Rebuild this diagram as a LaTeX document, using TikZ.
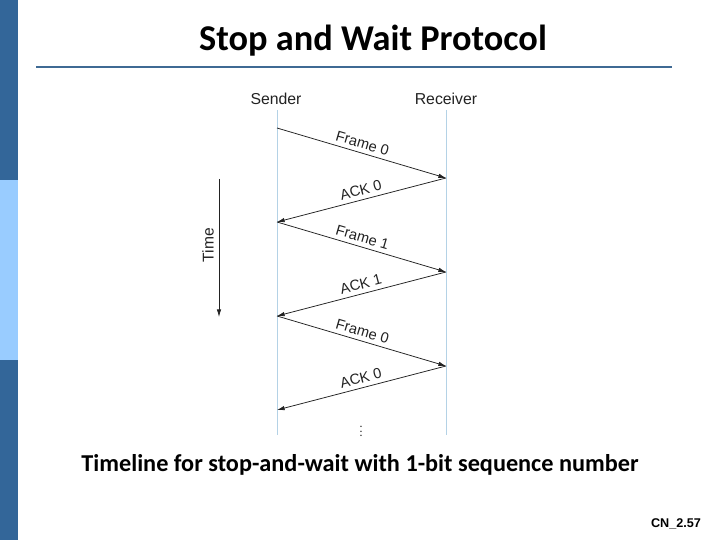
\documentclass[tikz,border=0pt]{standalone}
\usepackage{fontspec}
\setmainfont{Carlito}
\newfontfamily\arialfont{Liberation Sans}
\usetikzlibrary{arrows.meta,positioning,calc}
\definecolor{bardark}{HTML}{336699}
\definecolor{barlight}{HTML}{99CCFF}
\definecolor{rulecol}{HTML}{3F6A94}
\definecolor{lifecol}{HTML}{B4D2E6}
\definecolor{msgcol}{HTML}{222222}
\begin{document}
\begin{tikzpicture}[x=0.03cm,y=-0.03cm,>={Latex[length=6.5pt,width=3.8pt]}]
\tikzstyle{msg}=[draw=msgcol,line width=0.65pt,->]
\tikzstyle{lbl}=[font=\arialfont\fontsize{12.5}{14}\selectfont,text=msgcol,above,sloped,pos=0.49,inner sep=3.5pt]
\tikzstyle{life}=[draw=lifecol,line width=0.7pt]
\useasboundingbox (0,0) rectangle (720,540);
% side bar and title
\fill[bardark] (0,0) rectangle (18,180);
\fill[barlight] (0,180) rectangle (18,360);
\fill[bardark] (0,360) rectangle (18,540);
\node[font=\bfseries\fontsize{31}{36}\selectfont] (title) at (373,41) {Stop and Wait Protocol};
\draw[rulecol,line width=2.4pt] (36,67) -- (672,67);
% end points
\node[font=\arialfont\fontsize{13.5}{15}\selectfont,text=msgcol] (sender) at (276,99) {Sender};
\node[font=\arialfont\fontsize{13.5}{15}\selectfont,text=msgcol] (receiver) at (446,99) {Receiver};
\coordinate (sbot) at (277,435);
\coordinate (rbot) at (446,435);
\draw[life] (277,110) -- (sbot);
\draw[life] (446,110) -- (rbot);
% message events
\foreach \i/\y in {0/128,1/222,2/316,3/410} \coordinate (s\i) at (277,\y);
\foreach \i/\y in {0/178,1/272,2/366} \coordinate (r\i) at (446,\y);
\draw[msg] (s0) -- (r0) node[lbl]{Frame 0};
\draw[msg] (r0) -- (s1) node[lbl]{ACK 0};
\draw[msg] (s1) -- (r1) node[lbl]{Frame 1};
\draw[msg] (r1) -- (s2) node[lbl]{ACK 1};
\draw[msg] (s2) -- (r2) node[lbl]{Frame 0};
\draw[msg] (r2) -- (s3) node[lbl]{ACK 0};
\node[text=msgcol,inner sep=0pt,font=\fontsize{10}{12}\selectfont] (dots) at (361,428) {$\vdots$};
% time axis
\coordinate (ttop) at (219,179);
\coordinate (tbot) at (219,317);
\draw[msg] (ttop) -- (tbot);
\node[rotate=90,font=\arialfont\fontsize{13.3}{15}\selectfont,text=msgcol] (time) at (208,245) {Time};
% caption
\node[font=\bfseries\fontsize{20.7}{24}\selectfont] (caption) at (360,465) {Timeline for stop-and-wait with 1-bit sequence number};
\node[font=\arialfont\bfseries\fontsize{10.8}{13}\selectfont] (page) at (676,524) {CN\_2.57};
\end{tikzpicture}
\end{document}
